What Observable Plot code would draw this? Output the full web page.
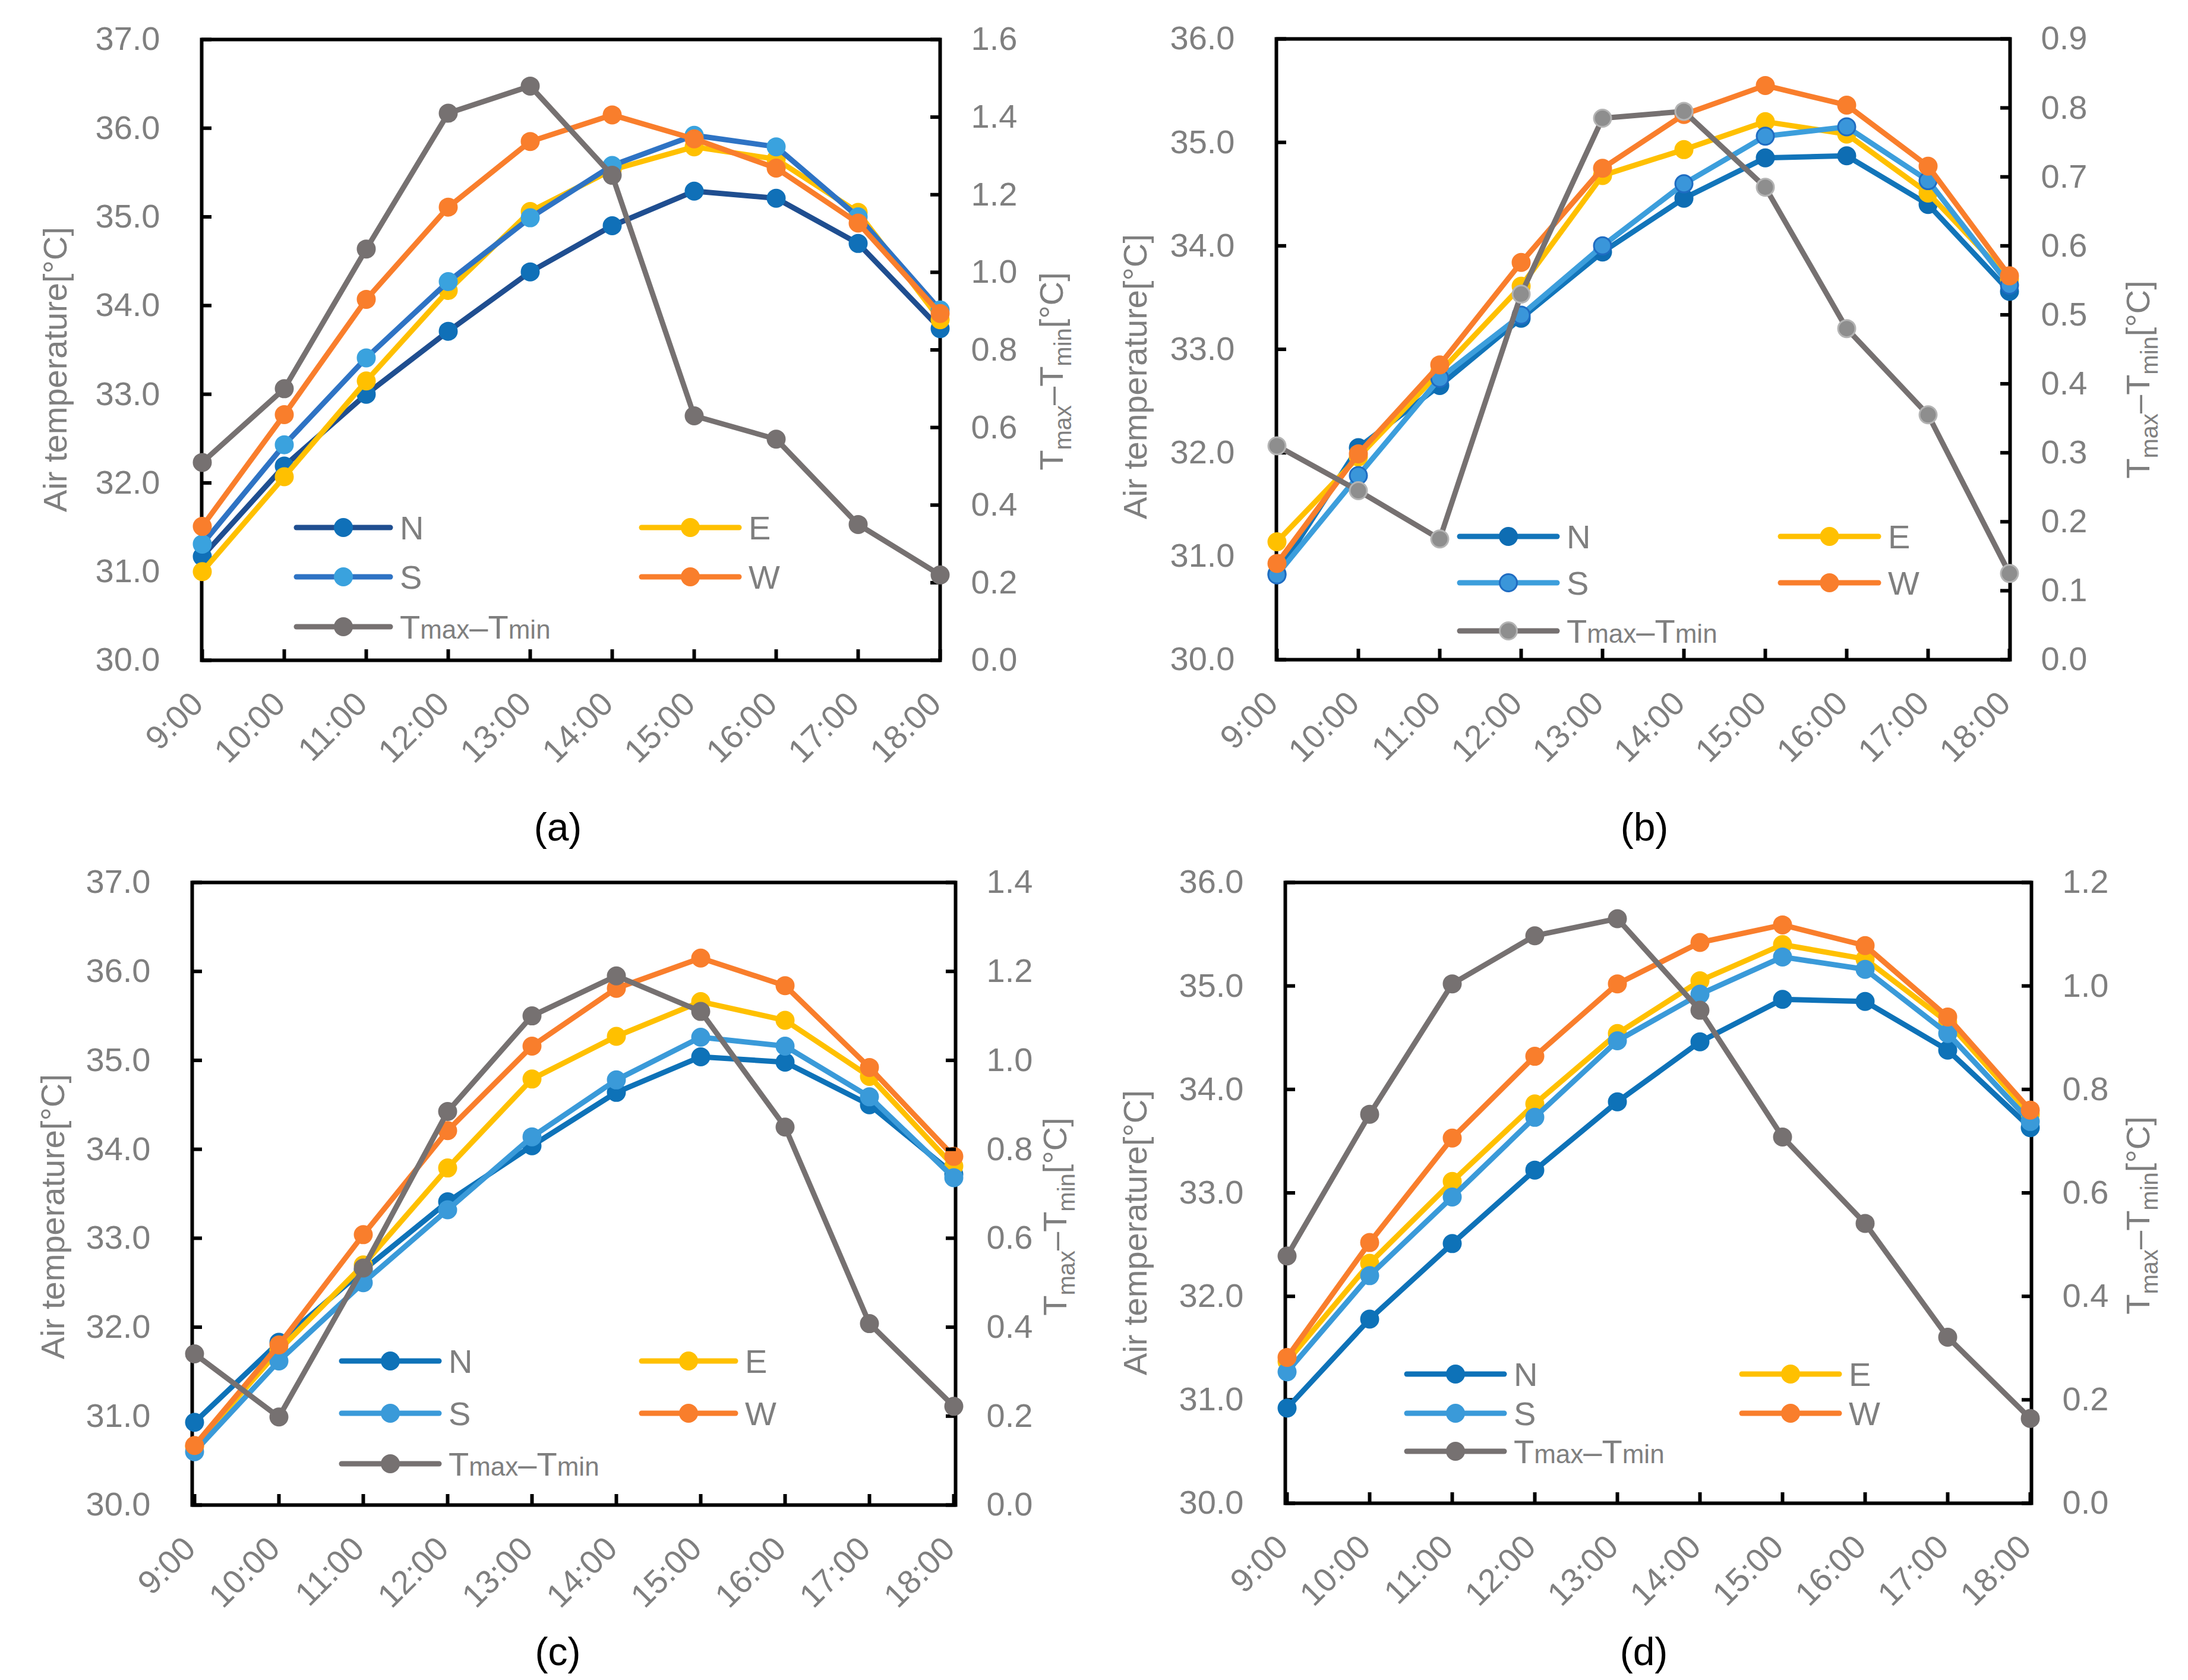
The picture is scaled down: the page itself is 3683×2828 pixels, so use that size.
<!DOCTYPE html>
<html><head><meta charset="utf-8">
<script src="https://cdn.jsdelivr.net/npm/d3@7"></script>
<script src="https://cdn.jsdelivr.net/npm/@observablehq/plot@0.6"></script>
<style>
html,body{margin:0;padding:0;background:#fff;}
#root{position:relative;width:3683px;height:2828px;overflow:hidden;font-family:"Liberation Sans",Arial,sans-serif;}
#root svg{position:absolute;left:0;top:0;max-width:none;overflow:visible;}
</style></head><body><div id="root"></div>
<script>
// ---------- data ----------
const hours = ["9:00","10:00","11:00","12:00","13:00","14:00","15:00","16:00","17:00","18:00"];
const seriesNames = ["N","E","S","W"];
const diffName = "Tmax–Tmin";

// panel (a)
const aN = [31.17, 32.19, 33.00, 33.71, 34.38, 34.90, 35.29, 35.21, 34.70, 33.74];
const aE = [31.00, 32.07, 33.15, 34.17, 35.06, 35.53, 35.79, 35.65, 35.05, 33.84];
const aS = [31.31, 32.43, 33.41, 34.27, 34.99, 35.58, 35.92, 35.79, 35.00, 33.95];
const aW = [31.51, 32.77, 34.07, 35.11, 35.85, 36.15, 35.88, 35.55, 34.93, 33.91];
const aD = [0.51, 0.70, 1.06, 1.41, 1.48, 1.25, 0.63, 0.57, 0.35, 0.22];
// panel (b)
const bN = [30.83, 32.05, 32.65, 33.30, 33.94, 34.46, 34.85, 34.87, 34.40, 33.56];
const bE = [31.14, 31.96, 32.78, 33.61, 34.68, 34.93, 35.20, 35.08, 34.51, 33.68];
const bS = [30.82, 31.78, 32.72, 33.33, 34.00, 34.60, 35.06, 35.15, 34.63, 33.62];
const bW = [30.93, 31.99, 32.85, 33.84, 34.75, 35.27, 35.55, 35.36, 34.77, 33.71];
const bD = [0.31, 0.245, 0.175, 0.53, 0.785, 0.795, 0.685, 0.48, 0.355, 0.125];
// panel (c)
const cN = [30.93, 31.83, 32.64, 33.41, 34.04, 34.64, 35.04, 34.98, 34.50, 33.72];
const cE = [30.66, 31.74, 32.70, 33.79, 34.79, 35.27, 35.66, 35.45, 34.82, 33.81];
const cS = [30.60, 31.62, 32.50, 33.32, 34.14, 34.78, 35.26, 35.16, 34.59, 33.68];
const cW = [30.67, 31.80, 33.04, 34.21, 35.16, 35.81, 36.15, 35.84, 34.92, 33.92];
const cD = [0.34, 0.198, 0.533, 0.885, 1.10, 1.19, 1.11, 0.85, 0.408, 0.222];
// panel (d)
const dN = [30.92, 31.78, 32.51, 33.22, 33.88, 34.46, 34.87, 34.85, 34.38, 33.63];
const dE = [31.37, 32.32, 33.11, 33.86, 34.54, 35.05, 35.40, 35.26, 34.65, 33.76];
const dS = [31.27, 32.20, 32.96, 33.73, 34.47, 34.92, 35.28, 35.16, 34.54, 33.69];
const dW = [31.41, 32.52, 33.53, 34.32, 35.02, 35.42, 35.59, 35.39, 34.70, 33.80];
const dD = [0.478, 0.752, 1.004, 1.097, 1.13, 0.953, 0.708, 0.541, 0.321, 0.164];

// tick values
const aTempTicks = [30, 31, 32, 33, 34, 35, 36, 37];
const aDiffTicks = [0, 0.2, 0.4, 0.6, 0.8, 1.0, 1.2, 1.4, 1.6];
const bTempTicks = [30, 31, 32, 33, 34, 35, 36];
const bDiffTicks = [0, 0.1, 0.2, 0.3, 0.4, 0.5, 0.6, 0.7, 0.8, 0.9];
const cTempTicks = [30, 31, 32, 33, 34, 35, 36, 37];
const cDiffTicks = [0, 0.2, 0.4, 0.6, 0.8, 1.0, 1.2, 1.4];
const dTempTicks = [30, 31, 32, 33, 34, 35, 36];
const dDiffTicks = [0, 0.2, 0.4, 0.6, 0.8, 1.0, 1.2];

const panelLabels = ["(a)", "(b)", "(c)", "(d)"];
const yTitle = "Air temperature[°C]";

// ---------- styling / layout ----------
const PW = 3683, PH = 2828;
const GRAY_TXT = "#7f7f7f";
const FONT = "Liberation Sans, Arial, sans-serif";
const colE = "#FFC000", colW = "#F97E2C", colD = "#767171";

const panels = [
  { vals: [aN, aE, aS, aW], diff: aD, yTicks: aTempTicks, rTicks: aDiffTicks, box: [339, 1582, 66, 1111],
    colors: { N: ["#1F4E90", "#1070B8", "#1070B8"], S: ["#2E73C4", "#3AA2DE", "#3AA2DE"] }, dMarker: [colD, colD],
    leg: { x1: 499, x2: 657, x3: 1080, x4: 1244, y: [888, 971, 1055] },
    lt: [92, 622], rt: [1772, 625], lab: [939, 1392] },
  { vals: [bN, bE, bS, bW], diff: bD, yTicks: bTempTicks, rTicks: bDiffTicks, box: [2148, 3383, 65, 1110],
    colors: { N: ["#1275BA", "#0E6DB3", "#0E6DB3"], S: ["#3C9EDC", "#3A96DA", "#1F6CC2"] }, dMarker: ["#8E8E8E", "#B4B4B4"],
    leg: { x1: 2457, x2: 2621, x3: 2997, x4: 3162, y: [903, 981, 1062] },
    lt: [1910, 634], rt: [3601, 639], lab: [2768, 1392] },
  { vals: [cN, cE, cS, cW], diff: cD, yTicks: cTempTicks, rTicks: cDiffTicks, box: [323, 1608, 1485, 2533],
    colors: { N: ["#0E72B8", "#0E72B8", "#0E72B8"], S: ["#3A9AD9", "#3A9AD9", "#3A9AD9"] }, dMarker: [colD, colD],
    leg: { x1: 575, x2: 739, x3: 1080, x4: 1238, y: [2291, 2379, 2464] },
    lt: [88, 2048], rt: [1778, 2048], lab: [939, 2780] },
  { vals: [dN, dE, dS, dW], diff: dD, yTicks: dTempTicks, rTicks: dDiffTicks, box: [2163, 3419, 1485, 2530],
    colors: { N: ["#0E72B8", "#0E72B8", "#0E72B8"], S: ["#3A9AD9", "#3A9AD9", "#3A9AD9"] }, dMarker: [colD, colD],
    leg: { x1: 2368, x2: 2532, x3: 2932, x4: 3096, y: [2313, 2379, 2443] },
    lt: [1910, 2075], rt: [3601, 2046], lab: [2767, 2780] }
];

const root = document.getElementById("root");
const LW = 9, MR = 14.5, MSW = 3;

function rows(values) { return hours.map((h, i) => ({ h, v: values[i] })); }

panels.forEach((p, pi) => {
  const [L, R, T, B] = p.box;
  const sizing = { width: PW, height: PH, marginLeft: L, marginRight: PW - R, marginTop: T, marginBottom: PH - B };
  const xScale = { type: "point", domain: hours, padding: 0 };
  const style = { background: "transparent", fontFamily: FONT, overflow: "visible" };
  const yDom = [p.yTicks[0], p.yTicks[p.yTicks.length - 1]];
  const rDom = [p.rTicks[0], p.rTicks[p.rTicks.length - 1]];

  const seriesCols = {
    N: p.colors.N, E: [colE, colE, colE], S: p.colors.S, W: [colW, colW, colW]
  };
  const lineMarks = [];
  seriesNames.forEach((name, k) => {
    const [lc, mf, ms] = seriesCols[name];
    const d = rows(p.vals[k]);
    lineMarks.push(Plot.line(d, { x: "h", y: "v", stroke: lc, strokeWidth: LW, strokeLinejoin: "round" }));
    lineMarks.push(Plot.dot(d, { x: "h", y: "v", r: MR, fill: mf, stroke: ms, strokeWidth: MSW }));
  });

  const base = Plot.plot({
    ...sizing, style,
    x: xScale,
    y: { domain: yDom },
    marks: [
      Plot.frame({ stroke: "black", strokeWidth: 6 }),
      Plot.axisY({ ticks: p.yTicks, tickSize: -17, fill: "none", stroke: "black", strokeWidth: 6 }),
      Plot.axisY({ ticks: p.yTicks, tickSize: 0, tickPadding: 70, tickFormat: d => d.toFixed(1), fontSize: 56, fill: GRAY_TXT, label: null }),
      Plot.axisX({ tickSize: -18, fill: "none", stroke: "black", strokeWidth: 6 }),
      Plot.axisX({ tickSize: 0, tickPadding: 64, tickRotate: -45, dx: -8, fontSize: 56, fill: GRAY_TXT, label: null }),
      ...lineMarks
    ]
  });
  root.appendChild(base);

  const dd = rows(p.diff);
  const over = Plot.plot({
    ...sizing, style,
    x: { ...xScale, axis: null },
    y: { domain: rDom },
    marks: [
      Plot.axisY({ anchor: "right", ticks: p.rTicks, tickSize: -17, fill: "none", stroke: "black", strokeWidth: 6 }),
      Plot.axisY({ anchor: "right", ticks: p.rTicks, tickSize: 0, tickPadding: 52, tickFormat: d => d.toFixed(1), fontSize: 56, fill: GRAY_TXT, label: null }),
      Plot.line(dd, { x: "h", y: "v", stroke: colD, strokeWidth: LW, strokeLinejoin: "round" }),
      Plot.dot(dd, { x: "h", y: "v", r: MR, fill: p.dMarker[0], stroke: p.dMarker[1], strokeWidth: MSW })
    ]
  });
  root.appendChild(over);

  // annotations: titles, legend, panel label
  const g = d3.select(over).append("g").attr("font-family", FONT).attr("text-anchor", "start");
  // left axis title
  g.append("text").attr("transform", `translate(${p.lt[0]},${p.lt[1]}) rotate(-90)`)
    .attr("text-anchor", "middle").attr("dy", "0.35em").attr("font-size", 56).attr("fill", GRAY_TXT).text(yTitle);
  // right axis title with subscripts
  const rt = g.append("text").attr("transform", `translate(${p.rt[0]},${p.rt[1]}) rotate(-90)`)
    .attr("text-anchor", "middle").attr("dy", "0.3em").attr("font-size", 56).attr("fill", GRAY_TXT);
  rt.append("tspan").text("T");
  rt.append("tspan").attr("font-size", 40).attr("dy", 14).text("max");
  rt.append("tspan").attr("dy", -14).text("–T");
  rt.append("tspan").attr("font-size", 40).attr("dy", 14).text("min");
  rt.append("tspan").attr("dy", -14).text("[°C]");
  // panel label
  g.append("text").attr("x", p.lab[0]).attr("y", p.lab[1]).attr("dy", "0.35em").attr("text-anchor", "middle")
    .attr("font-size", 66).attr("fill", "black").text(panelLabels[pi]);

  // legend
  const lg = p.leg;
  const items = [
    { name: "N", x1: lg.x1, x2: lg.x2, y: lg.y[0], c: seriesCols.N },
    { name: "E", x1: lg.x3, x2: lg.x4, y: lg.y[0], c: seriesCols.E },
    { name: "S", x1: lg.x1, x2: lg.x2, y: lg.y[1], c: seriesCols.S },
    { name: "W", x1: lg.x3, x2: lg.x4, y: lg.y[1], c: seriesCols.W },
    { name: diffName, x1: lg.x1, x2: lg.x2, y: lg.y[2], c: [colD, p.dMarker[0], p.dMarker[1]] }
  ];
  items.forEach(it => {
    g.append("line").attr("x1", it.x1).attr("x2", it.x2).attr("y1", it.y).attr("y2", it.y)
      .attr("stroke", it.c[0]).attr("stroke-width", LW).attr("stroke-linecap", "round");
    g.append("circle").attr("cx", (it.x1 + it.x2) / 2).attr("cy", it.y).attr("r", MR)
      .attr("fill", it.c[1]).attr("stroke", it.c[2]).attr("stroke-width", MSW);
    const t = g.append("text").attr("x", it.x2 + 16).attr("y", it.y).attr("dy", "0.36em")
      .attr("text-anchor", "start").attr("font-size", 56).attr("fill", GRAY_TXT);
    if (it.name === diffName) {
      t.append("tspan").text("T");
      t.append("tspan").attr("font-size", 44).text("max");
      t.append("tspan").text("–T");
      t.append("tspan").attr("font-size", 44).text("min");
    } else {
      t.text(it.name);
    }
  });
});
</script></body></html>
